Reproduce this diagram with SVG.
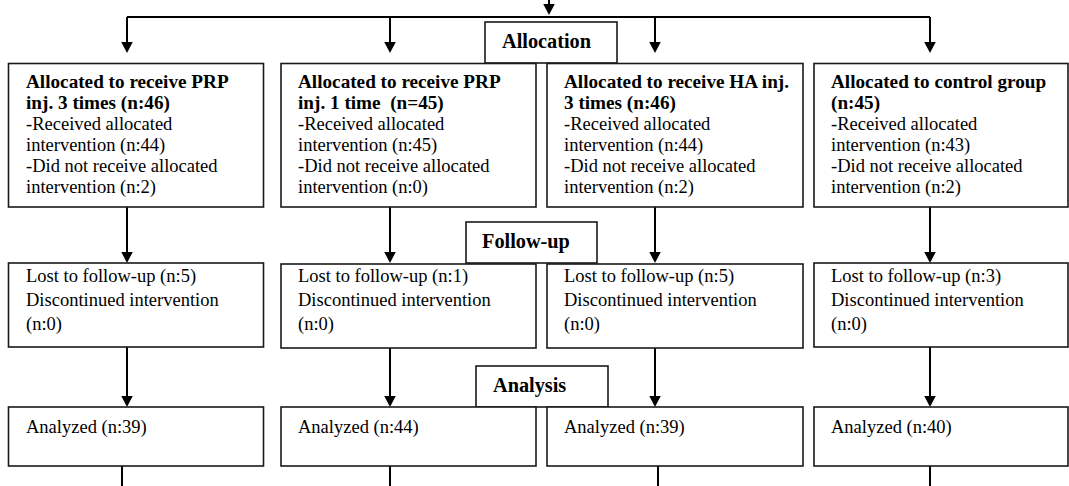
<svg xmlns="http://www.w3.org/2000/svg" width="1069" height="486" viewBox="0 0 1069 486">
<style>
.box{fill:#fff;stroke:#1a1a1a;stroke-width:1.6}
.t{font-family:'Liberation Serif','DejaVu Serif',serif;font-size:18.5px;fill:#000}
.b{font-weight:bold;font-size:19.2px}
.sec{font-family:'Liberation Serif','DejaVu Serif',serif;font-size:20.3px;font-weight:bold;fill:#000}
.c{stroke:#000;stroke-width:2;fill:none}
</style>
<defs>
<marker id="ah" markerWidth="12" markerHeight="12" refX="5" refY="5.75" orient="auto" markerUnits="userSpaceOnUse">
<path d="M0,0 L11,5.75 L0,11.5 Z" fill="#000"/>
</marker>
</defs>
<g id="connectors">
<line class="c" x1="549" y1="0" x2="549" y2="9" marker-end="url(#ah)"/>
<polyline class="c" points="127,17 930,17"/>
<line class="c" x1="127" y1="17" x2="127" y2="47" marker-end="url(#ah)"/>
<line class="c" x1="390" y1="17" x2="390" y2="47" marker-end="url(#ah)"/>
<line class="c" x1="655" y1="17" x2="655" y2="47" marker-end="url(#ah)"/>
<line class="c" x1="930" y1="17" x2="930" y2="47" marker-end="url(#ah)"/>
<line class="c" x1="127" y1="207" x2="127" y2="257" marker-end="url(#ah)"/>
<line class="c" x1="390" y1="207" x2="390" y2="257" marker-end="url(#ah)"/>
<line class="c" x1="655" y1="207" x2="655" y2="257" marker-end="url(#ah)"/>
<line class="c" x1="930" y1="207" x2="930" y2="257" marker-end="url(#ah)"/>
<line class="c" x1="127" y1="347" x2="127" y2="401" marker-end="url(#ah)"/>
<line class="c" x1="390" y1="347" x2="390" y2="401" marker-end="url(#ah)"/>
<line class="c" x1="655" y1="347" x2="655" y2="401" marker-end="url(#ah)"/>
<line class="c" x1="930" y1="347" x2="930" y2="401" marker-end="url(#ah)"/>
<line class="c" x1="122" y1="466" x2="122" y2="486"/>
<line class="c" x1="390" y1="466" x2="390" y2="486"/>
<line class="c" x1="658" y1="466" x2="658" y2="486"/>
<line class="c" x1="930" y1="466" x2="930" y2="486"/>
</g>
<g id="allocation">
<rect class="box" x="485" y="22" width="132" height="41"/>
<text class="sec" x="502" y="48">Allocation</text>
</g>
<g id="alloc1">
<rect class="box" x="8.5" y="63.5" width="255" height="143.5"/>
<text class="t" x="26"><tspan class="b" x="26" y="88">Allocated to receive PRP</tspan><tspan class="b" x="26" y="109">inj. 3 times (n:46)</tspan><tspan x="26" y="130">-Received allocated</tspan><tspan x="26" y="151">intervention (n:44)</tspan><tspan x="26" y="172">-Did not receive allocated</tspan><tspan x="26" y="193">intervention (n:2)</tspan></text>
</g>
<g id="alloc2">
<rect class="box" x="281" y="63.5" width="255" height="143.5"/>
<text class="t" x="298"><tspan class="b" x="298" y="88">Allocated to receive PRP</tspan><tspan class="b" x="298" y="109" xml:space="preserve">inj. 1 time  (n=45)</tspan><tspan x="298" y="130">-Received allocated</tspan><tspan x="298" y="151">intervention (n:45)</tspan><tspan x="298" y="172">-Did not receive allocated</tspan><tspan x="298" y="193">intervention (n:0)</tspan></text>
</g>
<g id="alloc3">
<rect class="box" x="547" y="63.5" width="256" height="143.5"/>
<text class="t" x="564"><tspan class="b" x="564" y="88">Allocated to receive HA inj.</tspan><tspan class="b" x="564" y="109">3 times (n:46)</tspan><tspan x="564" y="130">-Received allocated</tspan><tspan x="564" y="151">intervention (n:44)</tspan><tspan x="564" y="172">-Did not receive allocated</tspan><tspan x="564" y="193">intervention (n:2)</tspan></text>
</g>
<g id="alloc4">
<rect class="box" x="814" y="63.5" width="254" height="143.5"/>
<text class="t" x="831"><tspan class="b" x="831" y="88">Allocated to control group</tspan><tspan class="b" x="831" y="109">(n:45)</tspan><tspan x="831" y="130">-Received allocated</tspan><tspan x="831" y="151">intervention (n:43)</tspan><tspan x="831" y="172">-Did not receive allocated</tspan><tspan x="831" y="193">intervention (n:2)</tspan></text>
</g>
<g id="followup">
<rect class="box" x="466" y="222" width="131" height="41"/>
<text class="sec" x="482" y="248">Follow-up</text>
</g>
<g id="follow1">
<rect class="box" x="8.5" y="263" width="255" height="84"/>
<text class="t"><tspan x="26" y="282">Lost to follow-up (n:5)</tspan><tspan x="26" y="306">Discontinued intervention</tspan><tspan x="26" y="330">(n:0)</tspan></text>
</g>
<g id="follow2">
<rect class="box" x="281" y="264" width="255" height="84"/>
<text class="t"><tspan x="298" y="282">Lost to follow-up (n:1)</tspan><tspan x="298" y="306">Discontinued intervention</tspan><tspan x="298" y="330">(n:0)</tspan></text>
</g>
<g id="follow3">
<rect class="box" x="547" y="264" width="256" height="84"/>
<text class="t"><tspan x="564" y="282">Lost to follow-up (n:5)</tspan><tspan x="564" y="306">Discontinued intervention</tspan><tspan x="564" y="330">(n:0)</tspan></text>
</g>
<g id="follow4">
<rect class="box" x="814" y="263" width="254" height="84"/>
<text class="t"><tspan x="831" y="282">Lost to follow-up (n:3)</tspan><tspan x="831" y="306">Discontinued intervention</tspan><tspan x="831" y="330">(n:0)</tspan></text>
</g>
<g id="analysis">
<rect class="box" x="476" y="366" width="132" height="41"/>
<text class="sec" x="493" y="392">Analysis</text>
</g>
<g id="an1">
<rect class="box" x="8.5" y="407" width="255" height="59"/>
<text class="t" x="26" y="433">Analyzed (n:39)</text>
</g>
<g id="an2">
<rect class="box" x="281" y="407" width="255" height="59"/>
<text class="t" x="298" y="433">Analyzed (n:44)</text>
</g>
<g id="an3">
<rect class="box" x="547" y="407" width="256" height="59"/>
<text class="t" x="564" y="433">Analyzed (n:39)</text>
</g>
<g id="an4">
<rect class="box" x="814" y="407" width="254" height="59"/>
<text class="t" x="831" y="433">Analyzed (n:40)</text>
</g>
</svg>
